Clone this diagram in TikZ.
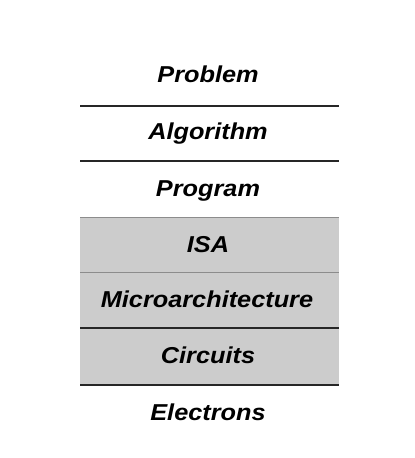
\documentclass[tikz,border=0pt]{standalone}
\usepackage{fontspec}
\setmainfont{Liberation Sans}
\begin{document}
\begin{tikzpicture}[x=1pt,y=-1pt,
  lbl/.style={anchor=base,inner sep=0pt,font=\fontsize{23}{23}\selectfont\bfseries\itshape},
  sep/.style={line width=1.3pt,black!85},
  sepgray/.style={line width=1pt,black!45}]
\useasboundingbox (0,0) rectangle (415,458);
\fill[black!20] (80,217) rectangle (339,385);
\coordinate (l1) at (80,106); \coordinate (r1) at (339,106);
\coordinate (l2) at (80,161); \coordinate (r2) at (339,161);
\coordinate (l3) at (80,217); \coordinate (r3) at (339,217);
\coordinate (l4) at (80,272); \coordinate (r4) at (339,272);
\coordinate (l5) at (80,328); \coordinate (r5) at (339,328);
\coordinate (l6) at (80,385); \coordinate (r6) at (339,385);
\draw[sep] (l1) -- (r1);
\draw[sep] (l2) -- (r2);
\draw[sepgray] (l3) -- (r3);
\draw[sepgray] (l4) -- (r4);
\draw[sep] (l5) -- (r5);
\draw[sep] (l6) -- (r6);
\node[lbl] (problem) at (208,82) {\scalebox{1.1}[1]{Problem}};
\node[lbl] (algorithm) at (208,139) {\scalebox{1.1}[1]{Algorithm}};
\node[lbl] (program) at (208,196) {\scalebox{1.1}[1]{Program}};
\node[lbl] (isa) at (208,252) {\scalebox{1.1}[1]{ISA}};
\node[lbl] (micro) at (207,307) {\scalebox{1.1}[1]{Microarchitecture}};
\node[lbl] (circuits) at (208,363) {\scalebox{1.1}[1]{Circuits}};
\node[lbl] (electrons) at (208,420) {\scalebox{1.1}[1]{Electrons}};
\end{tikzpicture}
\end{document}
